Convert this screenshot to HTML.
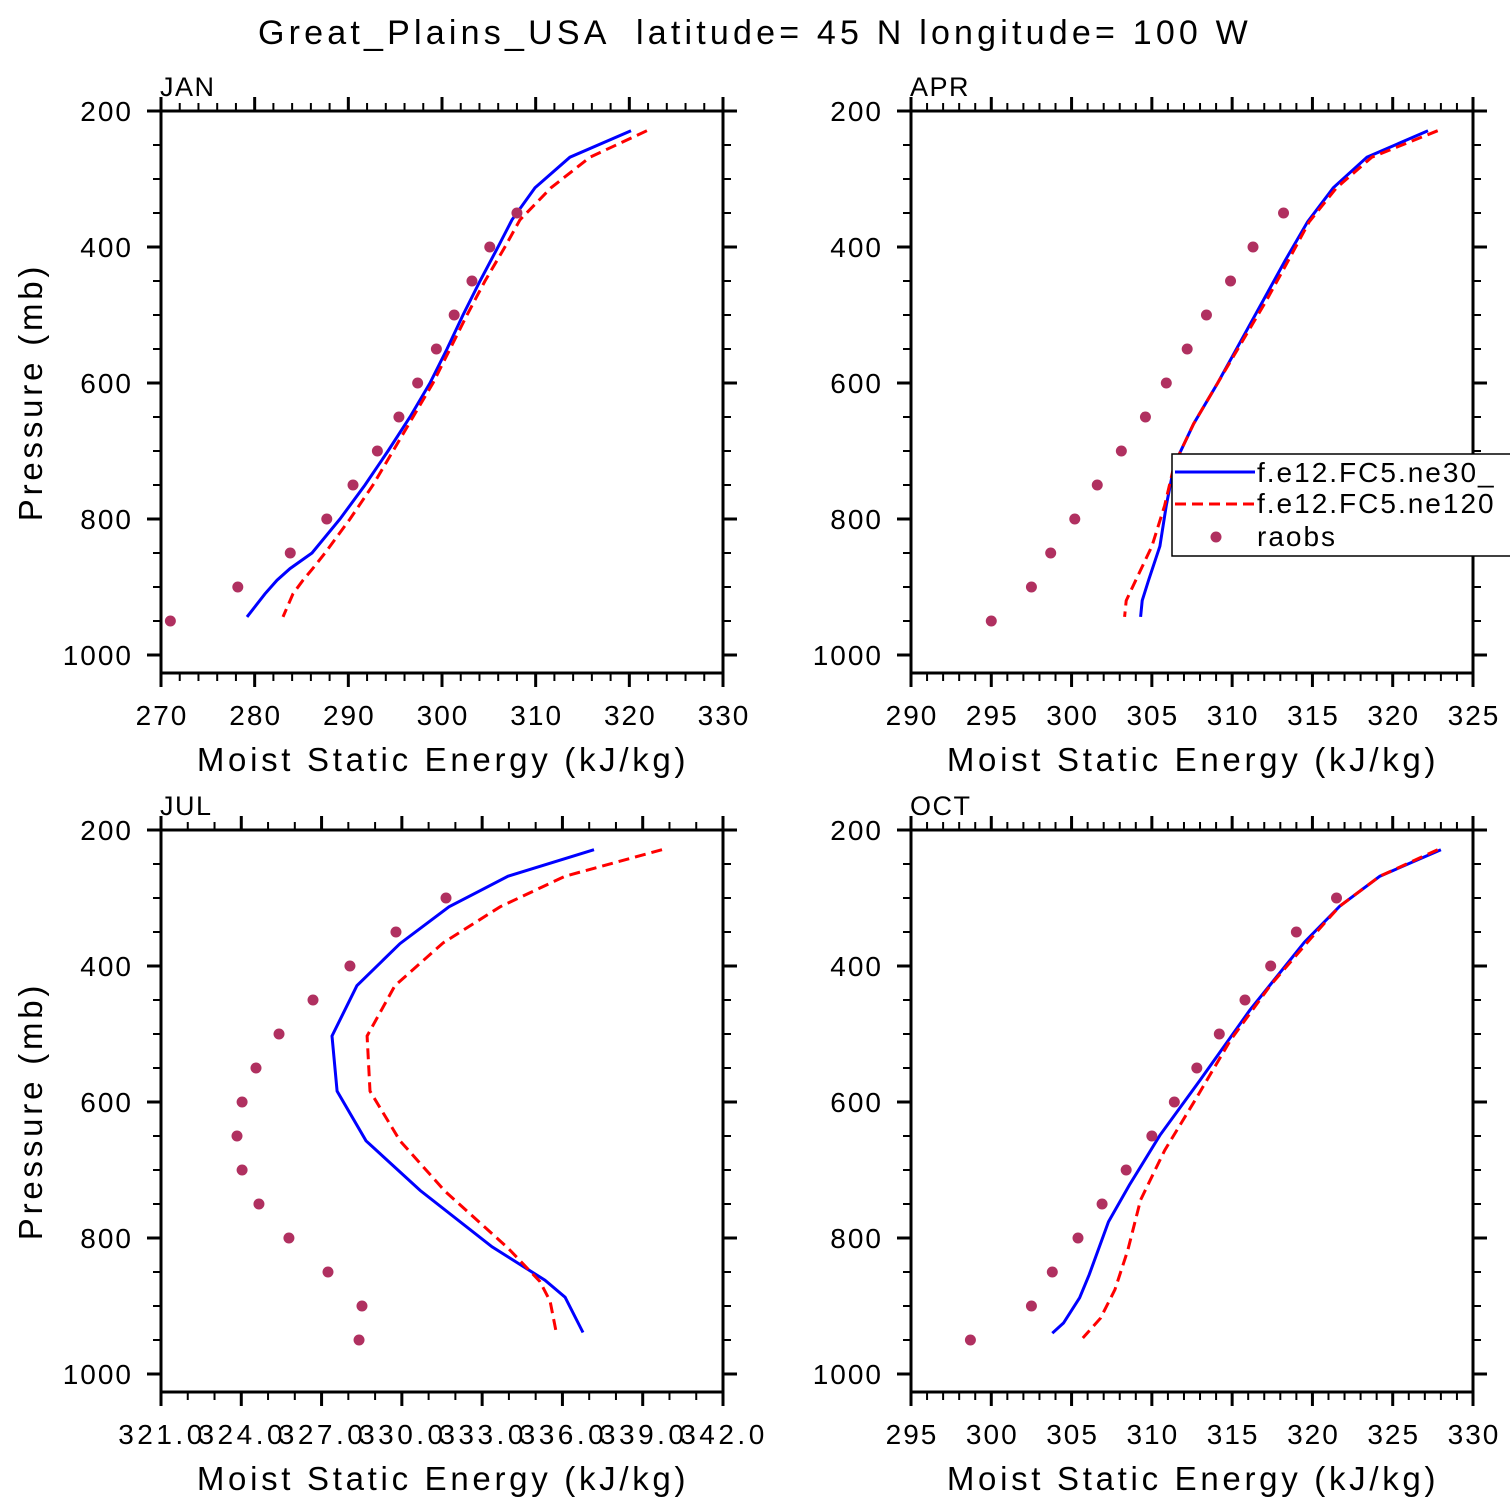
<!DOCTYPE html>
<html><head><meta charset="utf-8"><style>
html,body{margin:0;padding:0;background:#fff;}
svg{display:block;font-family:"Liberation Sans",sans-serif;}
</style></head><body>
<svg id="chart" width="1510" height="1510" viewBox="0 0 1510 1510" xmlns="http://www.w3.org/2000/svg">
<rect width="1510" height="1510" fill="#fff"/>
<text x="755" y="44" font-size="34" text-anchor="middle" letter-spacing="4.2" xml:space="preserve">Great_Plains_USA  latitude= 45 N longitude= 100 W</text>
<g id="panels"></g>
<g id="legend">
<rect x="1172" y="454" width="360" height="102" fill="#fff" stroke="#000" stroke-width="1.5"/>
<line x1="1175" y1="472" x2="1255" y2="472" stroke="#0000ff" stroke-width="3"/>
<text x="1257" y="482" font-size="28" letter-spacing="2">f.e12.FC5.ne30_</text>
<line x1="1175" y1="504" x2="1255" y2="504" stroke="#ff0000" stroke-width="3" stroke-dasharray="11,6"/>
<text x="1257" y="513" font-size="28" letter-spacing="2">f.e12.FC5.ne120</text>
<circle cx="1216" cy="537" r="5.5" fill="#b03060"/>
<text x="1257" y="546" font-size="28" letter-spacing="2">raobs</text>
</g>
</svg>
<script>
// ---- data ----
const obsP = [350,400,450,500,550,600,650,700,750,800,850,900,950];
const obsP2 = [300,350,400,450,500,550,600,650,700,750,800,850,900,950];
const janP = [229,268,313,360,400,450,500,550,600,650,700,750,800,850,873,890,910,944];
const janBlue = [320.18,313.66,309.93,307.47,305.98,304.06,302.24,300.53,298.72,296.58,294.23,291.78,289.11,286.12,283.77,282.38,281.10,279.18];
const janRed = [321.88,315.80,311.64,308.33,306.72,304.59,302.67,300.85,299.04,296.90,294.77,292.63,290.18,287.51,286.2,285.16,284.09,283.02];
const janObs = [308.0,305.1,303.2,301.3,299.4,297.4,295.4,293.1,290.5,287.7,283.8,278.2,271.0];
const aprP = [229,268,313,363,420,480,540,600,660,720,780,840,890,920,944];
const aprBlue = [322.2,318.4,316.3,314.7,313.3,311.9,310.5,309.1,307.6,306.4,305.9,305.5,304.8,304.4,304.3];
const aprRed = [322.8,318.7,316.5,314.8,313.5,312.1,310.6,309.1,307.6,306.4,305.8,305.0,304.0,303.4,303.3];
const aprObs = [313.2,311.3,309.9,308.4,307.2,305.9,304.6,303.1,301.6,300.2,298.7,297.5,295.0];
const julBlueP = [229,268,313,367,429,503,584,657,730,813,862,887,939];
const julBlue = [337.18,333.97,331.76,329.93,328.32,327.39,327.58,328.66,330.68,333.37,335.35,336.10,336.77];
const julRedP = [229,268,313,366,429,503,584,657,731,815,864,893,937];
const julRed = [339.72,336.10,333.67,331.54,329.74,328.70,328.81,329.93,331.61,333.97,335.16,335.54,335.76];
const julObs = [331.65,329.78,328.06,326.68,325.41,324.55,324.03,323.84,324.03,324.66,325.78,327.24,328.51,328.40];
const octBlueP = [229,268,312,365,465,568,649,722,776,854,888,925,940];
const octBlue = [328.0,324.2,321.7,319.5,316.1,313.0,310.5,308.6,307.3,306.1,305.5,304.5,303.8];
const octRedP = [229,268,312,362,428,509,597,671,744,818,876,918,947];
const octRed = [327.8,324.2,321.7,319.8,317.4,314.9,312.7,310.8,309.3,308.5,307.7,306.8,305.7];
const octObs = [321.5,319.0,317.4,315.8,314.2,312.8,311.4,310.0,308.4,306.9,305.4,303.8,302.5,298.7];
const yTicks = [200,400,600,800,1000];
const janTicks = [270,280,290,300,310,320,330];
const aprTicks = [290,295,300,305,310,315,320,325];
const julTicks = [321,324,327,330,333,336,339,342];
const octTicks = [295,300,305,310,315,320,325,330];

const NS = "http://www.w3.org/2000/svg";
const root = document.getElementById('panels');
function mk(tag, attrs, parent){
  const e = document.createElementNS(NS, tag);
  for (const k in attrs) e.setAttribute(k, attrs[k]);
  (parent||root).appendChild(e);
  return e;
}
function panel(cfg){
  const g = mk('g', {});
  
  
  const L = cfg.x0, R = cfg.x0 + 562, T = cfg.y0, B = cfg.y0 + 562;
  const xmin = cfg.ticks[0], xmax = cfg.ticks[cfg.ticks.length-1];
  const xs = v => L + (v - xmin) / (xmax - xmin) * 562;
  const ys = p => T + (p - 200) * 0.68;
  for (let p = 250; p <= 1000; p += 50) {
    if (p % 200 === 0) continue;
    mk('line', {x1:L-8, x2:L, y1:ys(p), y2:ys(p), stroke:'#000','stroke-width':2}, g);
    mk('line', {x1:R, x2:R+8, y1:ys(p), y2:ys(p), stroke:'#000','stroke-width':2}, g);
  }
  yTicks.forEach(p => {
    mk('line', {x1:L-14, x2:L, y1:ys(p), y2:ys(p), stroke:'#000','stroke-width':3}, g);
    mk('line', {x1:R, x2:R+14, y1:ys(p), y2:ys(p), stroke:'#000','stroke-width':3}, g);
    const t = mk('text', {x:L-28, y:ys(p)+10, 'font-size':28, 'text-anchor':'end', 'letter-spacing':2}, g);
    
    
    t.textContent = p;
  });
  for (let v = xmin; v <= xmax + 1e-6; v += cfg.minor) {
    mk('line', {x1:xs(v), x2:xs(v), y1:B, y2:B+8, stroke:'#000','stroke-width':2}, g);
    mk('line', {x1:xs(v), x2:xs(v), y1:T-8, y2:T, stroke:'#000','stroke-width':2}, g);
  }
  cfg.ticks.forEach(v => {
    mk('line', {x1:xs(v), x2:xs(v), y1:B, y2:B+14, stroke:'#000','stroke-width':3}, g);
    mk('line', {x1:xs(v), x2:xs(v), y1:T-14, y2:T, stroke:'#000','stroke-width':3}, g);
    const t = mk('text', {x:xs(v)+1, y:B+52, 'font-size':28, 'text-anchor':'middle', 'letter-spacing':cfg.fmt?3.5:2}, g);
    
    
    t.textContent = cfg.fmt ? v.toFixed(1) : v;
  });
  const box = mk('rect', {x:L, y:T, width:562, height:562, fill:'none', stroke:'#000', 'stroke-width':3}, g);
  
  
  const lab = mk('text', {x:L-1, y:T-15, 'font-size':27, 'letter-spacing':1.5}, g);
  
  
  lab.textContent = cfg.label;
  const xt = mk('text', {x:L+282, y:B+98, 'font-size':33, 'text-anchor':'middle', 'letter-spacing':'3.7'}, g);
  
  
  xt.textContent = 'Moist Static Energy (kJ/kg)';
  if (cfg.ylab) {
    const yt = mk('text', {x:0, y:0, 'font-size':33, 'text-anchor':'middle', 'letter-spacing':'3.8', transform:`translate(42,${T+281}) rotate(-90)`}, g);
    
    
    yt.textContent = 'Pressure (mb)';
  }
  const pts = (P, V) => P.map((p,i)=> xs(V[i]).toFixed(1)+','+ys(p).toFixed(1)).join(' ');
  const bl = mk('polyline', {points:pts(cfg.bP, cfg.blue), fill:'none', stroke:'#0000ff', 'stroke-width':3}, g);
  
  
  const rl = mk('polyline', {points:pts(cfg.rP, cfg.red), fill:'none', stroke:'#ff0000', 'stroke-width':3, 'stroke-dasharray':'11,6'}, g);
  
  
  cfg.oP.forEach((p,i) => {
    const c = mk('circle', {cx:xs(cfg.obs[i]), cy:ys(p), r:5.5, fill:'#b03060'}, g);
    
    
  });
}
panel({name:'jan', label:'JAN', x0:161, y0:111, ticks:janTicks, minor:2, ylab:true, bP:janP, blue:janBlue, rP:janP, red:janRed, oP:obsP, obs:janObs});
panel({name:'apr', label:'APR', x0:911, y0:111, ticks:aprTicks, minor:1, ylab:false, bP:aprP, blue:aprBlue, rP:aprP, red:aprRed, oP:obsP, obs:aprObs});
panel({name:'jul', label:'JUL', x0:161, y0:830, ticks:julTicks, minor:1, ylab:true, fmt:true, bP:julBlueP, blue:julBlue, rP:julRedP, red:julRed, oP:obsP2, obs:julObs});
panel({name:'oct', label:'OCT', x0:911, y0:830, ticks:octTicks, minor:1, ylab:false, bP:octBlueP, blue:octBlue, rP:octRedP, red:octRed, oP:obsP2, obs:octObs});
document.getElementById('chart').appendChild(document.getElementById('legend'));
</script>
</body></html>
